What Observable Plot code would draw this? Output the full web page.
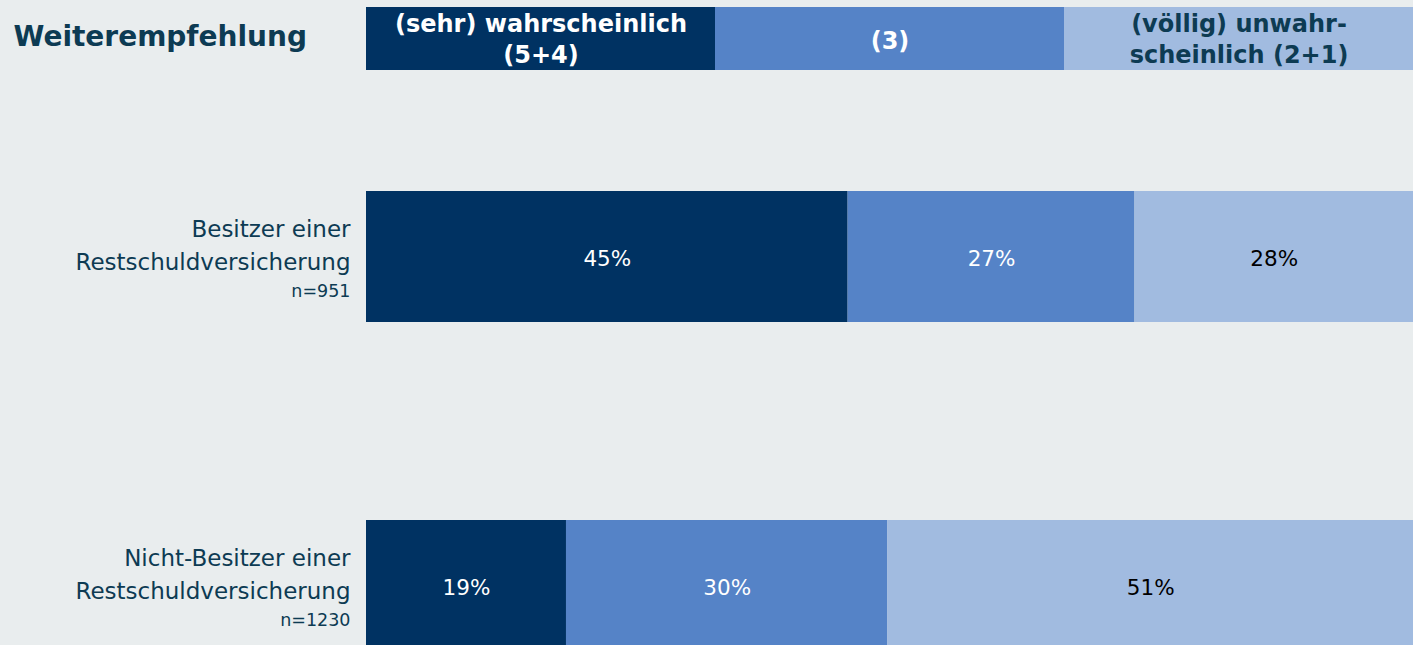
<!DOCTYPE html>
<html>
<head>
<meta charset="utf-8">
<script src="https://cdn.jsdelivr.net/npm/d3@7"></script>
<script src="https://cdn.jsdelivr.net/npm/@observablehq/plot@0.6"></script>
<style>
  html, body { margin: 0; padding: 0; background: #e9edee; overflow: hidden; width: 1413px; height: 645px; }
  #chart svg { display: block; background: transparent; }
</style>
</head>
<body>
<div id="chart"></div>
<script>
// ---- data ----
const title = "Weiterempfehlung";
const categories = ["(sehr) wahrscheinlich (5+4)", "(3)", "(völlig) unwahrscheinlich (2+1)"];
const headerLabels = ["(sehr) wahrscheinlich\n(5+4)", "(3)", "(völlig) unwahr-\nscheinlich (2+1)"];
const colors = ["#003262", "#5583c7", "#a1bbe0"];
const headerTextColors = ["#ffffff", "#ffffff", "#0d3b53"];
const groups = ["Besitzer einer\nRestschuldversicherung", "Nicht-Besitzer einer\nRestschuldversicherung"];
const sampleSizes = ["n=951", "n=1230"];
const valuesBesitzer = [46.0, 27.4, 26.6];
const valuesNichtBesitzer = [19.1, 30.7, 50.2];
const labelsBesitzer = ["45%", "27%", "28%"];
const labelsNichtBesitzer = ["19%", "30%", "51%"];

// ---- build table ----
const series = [
  {group: groups[0], values: valuesBesitzer, labels: labelsBesitzer},
  {group: groups[1], values: valuesNichtBesitzer, labels: labelsNichtBesitzer}
];
const rows = [];
for (const s of series) {
  let acc = 0;
  s.values.forEach((v, i) => {
    rows.push({group: s.group, cat: categories[i], value: v, mid: acc + v / 2, label: s.labels[i], idx: i});
    acc += v;
  });
}
const header = categories.map((c, i) => ({cat: c, label: headerLabels[i], color: headerTextColors[i], idx: i}));
const groupRows = groups.map((g, i) => ({group: g, n: sampleSizes[i]}));

const FONT = "DejaVu Sans, Verdana, sans-serif";
const TEXT = "#0d3b53";

const headerPlot = Plot.plot({
  width: 1413, height: 70,
  marginLeft: 366, marginRight: 0, marginTop: 7, marginBottom: 0,
  style: {background: "transparent", fontFamily: FONT},
  x: {domain: categories, padding: 0, axis: null},
  color: {domain: categories, range: colors},
  marks: [
    Plot.cell(header, {x: "cat", fill: "cat", inset: 0}),
    Plot.text(header.filter(d => d.idx !== 1), {x: "cat", text: "label", fill: "color", fontSize: 24, fontWeight: "bold", lineAnchor: "bottom", lineHeight: 1.26, dy: 23.5}),
    Plot.text(header.filter(d => d.idx === 1), {x: "cat", text: "label", fill: "color", fontSize: 24, fontWeight: "bold", lineAnchor: "bottom", dy: 9.5}),
    Plot.text([title], {frameAnchor: "left", text: d => d, textAnchor: "start", dx: -353, dy: 7, lineAnchor: "bottom", fontSize: 28, fontWeight: "bold", fill: TEXT})
  ]
});

const barPlot = Plot.plot({
  width: 1413, height: 600,
  marginLeft: 366, marginRight: 0, marginTop: 120, marginBottom: 19,
  style: {background: "transparent", fontFamily: FONT},
  x: {domain: [0, 100], axis: null},
  y: {domain: groups, paddingInner: 0.603, paddingOuter: 0, axis: null},
  color: {domain: categories, range: colors},
  marks: [
    Plot.barX(rows, {x: "value", y: "group", fill: "cat", order: null, inset: 0}),
    Plot.text(rows.filter(d => d.idx < 2), {x: "mid", y: "group", text: "label", fill: "white", fontSize: 21.5, lineAnchor: "bottom", dy: 8.5}),
    Plot.text(rows.filter(d => d.idx === 2), {x: "mid", y: "group", text: "label", fill: "black", fontSize: 21.5, lineAnchor: "bottom", dy: 8.5}),
    Plot.text(groupRows, {y: "group", text: "group", frameAnchor: "left", textAnchor: "end", dx: -16, dy: 12.5, lineAnchor: "bottom", lineHeight: 1.435, fontSize: 23, fill: TEXT}),
    Plot.text(groupRows, {y: "group", text: "n", frameAnchor: "left", textAnchor: "end", dx: -16, dy: 39.5, lineAnchor: "bottom", fontSize: 17.5, fill: TEXT})
  ]
});

const chart = document.getElementById("chart");
chart.appendChild(headerPlot);
chart.appendChild(barPlot);
</script>
</body>
</html>
